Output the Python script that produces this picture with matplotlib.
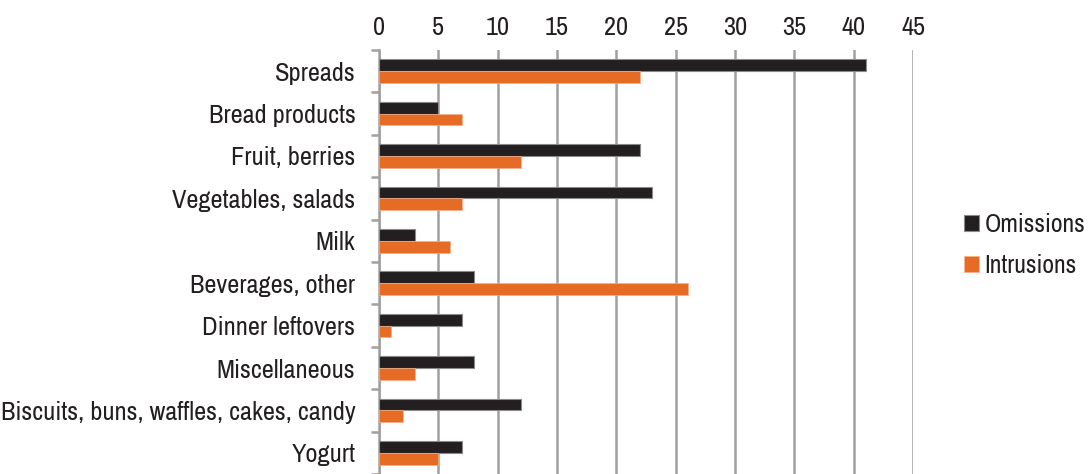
import matplotlib
matplotlib.use("Agg")
import matplotlib.pyplot as plt
import numpy as np
from matplotlib import font_manager

categories = ["Spreads", "Bread products", "Fruit, berries", "Vegetables, salads", "Milk",
              "Beverages, other", "Dinner leftovers", "Miscellaneous",
              "Biscuits, buns, waffles, cakes, candy", "Yogurt"]
omissions = [41, 5, 22, 23, 3, 8, 7, 8, 12, 7]
intrusions = [22, 7, 12, 7, 6, 26, 1, 3, 2, 5]
xticks = [0, 5, 10, 15, 20, 25, 30, 35, 40, 45]

names = {f.name for f in font_manager.fontManager.ttflist}
fam = [f for f in ["Archivo Narrow", "Roboto Condensed", "PT Sans Narrow", "Liberation Sans"] if f in names][:1] + ["DejaVu Sans"]
plt.rcParams['font.family'] = fam

FS = 19
fig = plt.figure(figsize=(10.9, 4.74), dpi=100)
ax = fig.add_axes([379/1090, 0, (913-379)/1090, 1 - 50/474])

n = len(categories)
y = np.arange(n)
h = 0.28
ax.barh(y - h/2, omissions, height=h, color="#231F20", edgecolor="#8a8a8a", linewidth=0.8, label="Omissions", zorder=3)
ax.barh(y + h/2, intrusions, height=h, color="#E66C25", edgecolor="#f5b08a", linewidth=0.5, label="Intrusions", zorder=3)

ax.set_ylim(n - 0.5, -0.5)
ax.set_xlim(0, 45)
ax.set_xticks(xticks)
ax.xaxis.tick_top()
ax.tick_params(axis='x', length=0, labelsize=FS, pad=8, labelcolor="#231F20")
ax.set_yticks(y)
ax.set_yticklabels(categories, fontsize=FS, color="#231F20")
ax.tick_params(axis='y', which='major', length=0, pad=17)
ax.set_yticks(np.arange(n + 1) - 0.5, minor=True)
ax.tick_params(axis='y', which='minor', length=6, width=1.8, color="#A0A0A0")
ax.grid(axis='x', color="#A0A0A0", linewidth=1.8, zorder=0)
for s in ["top", "right", "bottom"]:
    ax.spines[s].set_visible(False)
ax.spines["left"].set_color("#A0A0A0")
ax.spines["left"].set_linewidth(1.8)

leg = fig.legend(loc="center left", bbox_to_anchor=(964/1090, 1 - 245/474), frameon=False,
                 borderpad=0, borderaxespad=0,
                 fontsize=18.5, handlelength=0.6, handleheight=0.6, handletextpad=0.2, labelspacing=0.7)
for t in leg.get_texts():
    t.set_color("#231F20")

fig.savefig("out.png", dpi=100)
